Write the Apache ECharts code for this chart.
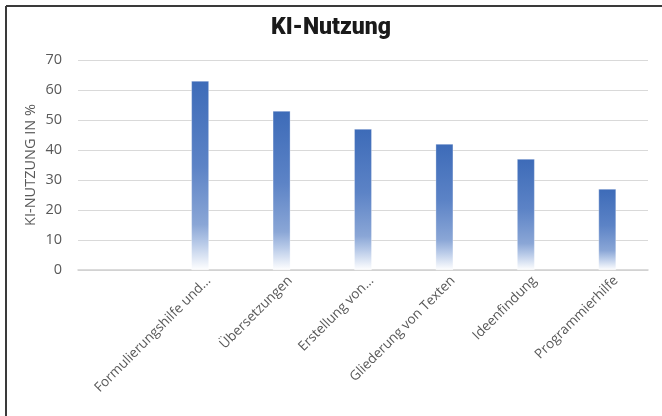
<!DOCTYPE html>
<html>
<head>
<meta charset="utf-8">
<script src="https://cdn.jsdelivr.net/npm/echarts@6/dist/echarts.min.js"></script>
<style>
html,body{margin:0;padding:0;background:#fff;}
#chart{width:662px;height:416px;}
</style>
</head>
<body>
<div id="chart"></div>
<script>
const title = 'KI-Nutzung';
const yAxisName = 'KI-NUTZUNG IN %';
const categories = ['', 'Formulierungshilfe und...', 'Übersetzungen', 'Erstellung von...', 'Gliederung von Texten', 'Ideenfindung', 'Programmierhilfe'];
const values = [null, 63, 53, 47, 42, 37, 27];

const FONT = '"Open Sans", sans-serif';
const chart = echarts.init(document.getElementById('chart'), null, {renderer: 'canvas'});
chart.setOption({
  animation: false,
  backgroundColor: '#ffffff',
  title: {
    text: title,
    left: 'center',
    top: 12,
    textStyle: {fontFamily: 'Roboto', fontWeight: 900, fontSize: 23, color: '#1a1a1a'}
  },
  graphic: [
    {type: 'line', shape: {x1: 6, y1: 6, x2: 662, y2: 6}, style: {stroke: '#3a3a3a', lineWidth: 2}},
    {type: 'line', shape: {x1: 6, y1: 6, x2: 6, y2: 416}, style: {stroke: '#3a3a3a', lineWidth: 2}}
  ],
  grid: {left: 78, right: 14, top: 60, bottom: 146, containLabel: false},
  xAxis: {
    type: 'category',
    data: categories,
    axisLine: {show: true, lineStyle: {color: '#d0d0d0', width: 1.5}},
    axisTick: {show: false},
    axisLabel: {rotate: 45, interval: 0, margin: 17, padding: [0, -12, 0, 0], fontFamily: FONT, fontSize: 13.5, color: '#595959'}
  },
  yAxis: {
    type: 'value',
    min: 0, max: 70, interval: 10,
    name: yAxisName,
    nameLocation: 'middle',
    nameRotate: 90,
    nameGap: 40,
    nameMoveOverlap: false,
    nameTextStyle: {fontFamily: FONT, fontSize: 14.5, color: '#595959'},
    axisLine: {show: false},
    axisTick: {show: false},
    axisLabel: {fontFamily: FONT, fontSize: 14.5, color: '#595959', margin: 16},
    splitLine: {lineStyle: {color: '#d9d9d9', width: 1}}
  },
  series: [{
    type: 'bar',
    data: values,
    barWidth: '21.5%',
    itemStyle: {
      borderColor: 'rgba(255,255,255,0.6)',
      borderWidth: 0.5,
      color: new echarts.graphic.LinearGradient(0, 0, 0, 1, [
        {offset: 0, color: '#3d6bb8'},
        {offset: 0.45, color: '#5c83c6'},
        {offset: 0.76, color: '#8aa6d6'},
        {offset: 0.86, color: '#b8cae8'},
        {offset: 1, color: '#ffffff'}
      ])
    }
  }]
});
</script>
</body>
</html>
